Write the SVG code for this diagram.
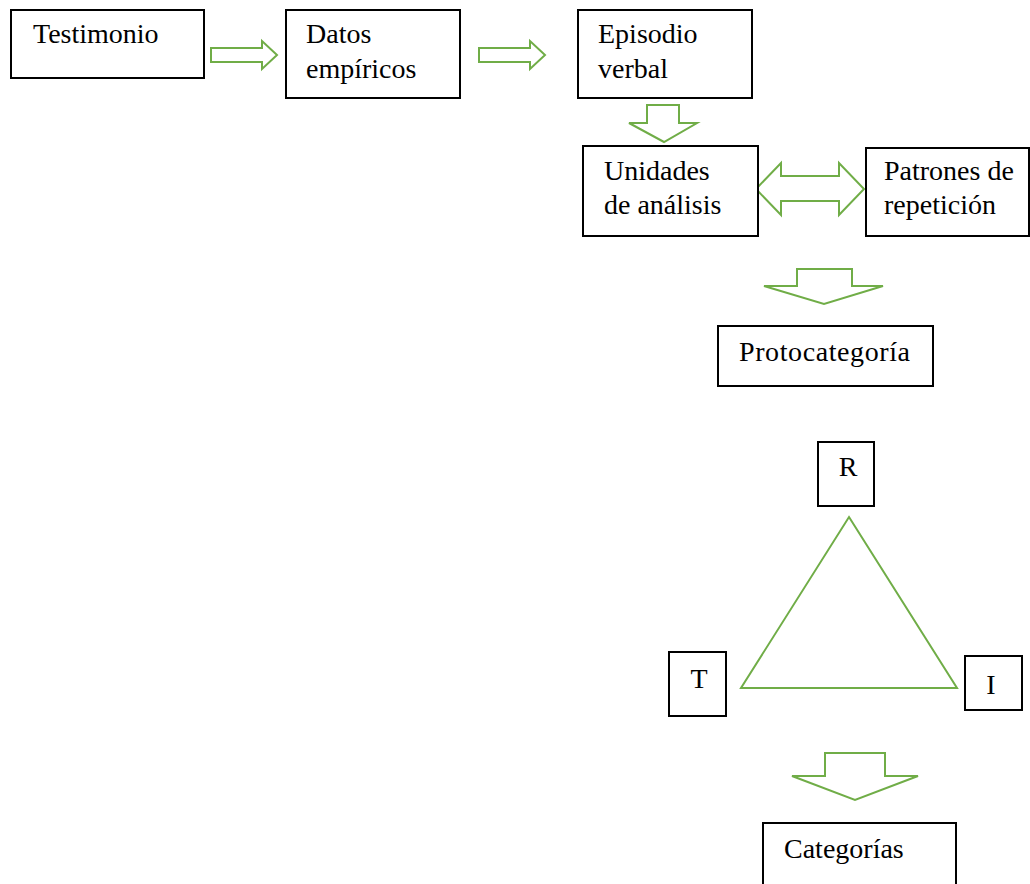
<svg xmlns="http://www.w3.org/2000/svg" width="1030" height="884" viewBox="0 0 1030 884">
<style>
.box{fill:#fff;stroke:#000;stroke-width:2}
.ar{fill:#fff;stroke:#70AD47;stroke-width:2;stroke-linejoin:miter}
text{font-family:"Liberation Serif","Times New Roman",serif;font-size:28px;fill:#000}
</style>
<rect width="1030" height="884" fill="#fff"/>
<g id="connectors">
<path class="ar" d="M211,48 H262 V41 L277,55 L262,69 V62 H211 Z"/>
<path class="ar" d="M479,48 H530 V41 L545,55 L530,69 V62 H479 Z"/>
<path class="ar" d="M647,105 H679 V123 H697 L664,142 L629,123 H647 Z"/>
<path class="ar" d="M756,189 L781,163 V176 H839 V163 L864,189 L839,215 V201 H781 V215 Z"/>
<path class="ar" d="M797,269 H852 V286 H883 L824,304 L764,286 H797 Z"/>
<path class="ar" d="M849,517 L957,688 H741 Z"/>
<path class="ar" d="M825,753 H885 V776 H918 L855,800 L792,776 H825 Z"/>
</g>
<g id="testimonio"><rect class="box" x="11" y="10" width="193" height="68"/><text x="33" y="43">Testimonio</text></g>
<g id="datos"><rect class="box" x="286" y="10" width="174" height="88"/><text x="306" y="43">Datos</text><text x="306" y="78">empíricos</text></g>
<g id="episodio"><rect class="box" x="578" y="10" width="174" height="88"/><text x="598" y="43">Episodio</text><text x="598" y="78">verbal</text></g>
<g id="unidades"><rect class="box" x="583" y="146" width="175" height="90"/><text x="604" y="180">Unidades</text><text x="604" y="214">de análisis</text></g>
<g id="patrones"><rect class="box" x="866" y="148" width="163" height="88"/><text x="884" y="180">Patrones de</text><text x="884" y="214">repetición</text></g>
<g id="protocategoria"><rect class="box" x="718" y="326" width="215" height="60"/><text x="739" y="361" textLength="171">Protocategoría</text></g>
<g id="r"><rect class="box" x="818" y="442" width="56" height="64"/><text x="848" y="476" text-anchor="middle">R</text></g>
<g id="t"><rect class="box" x="669" y="652" width="57" height="64"/><text x="699" y="688" text-anchor="middle">T</text></g>
<g id="i"><rect class="box" x="965" y="656" width="57" height="54"/><text x="991" y="694" text-anchor="middle">I</text></g>
<g id="categorias"><rect class="box" x="763" y="823" width="193" height="70"/><text x="784" y="858">Categorías</text></g>
</svg>
